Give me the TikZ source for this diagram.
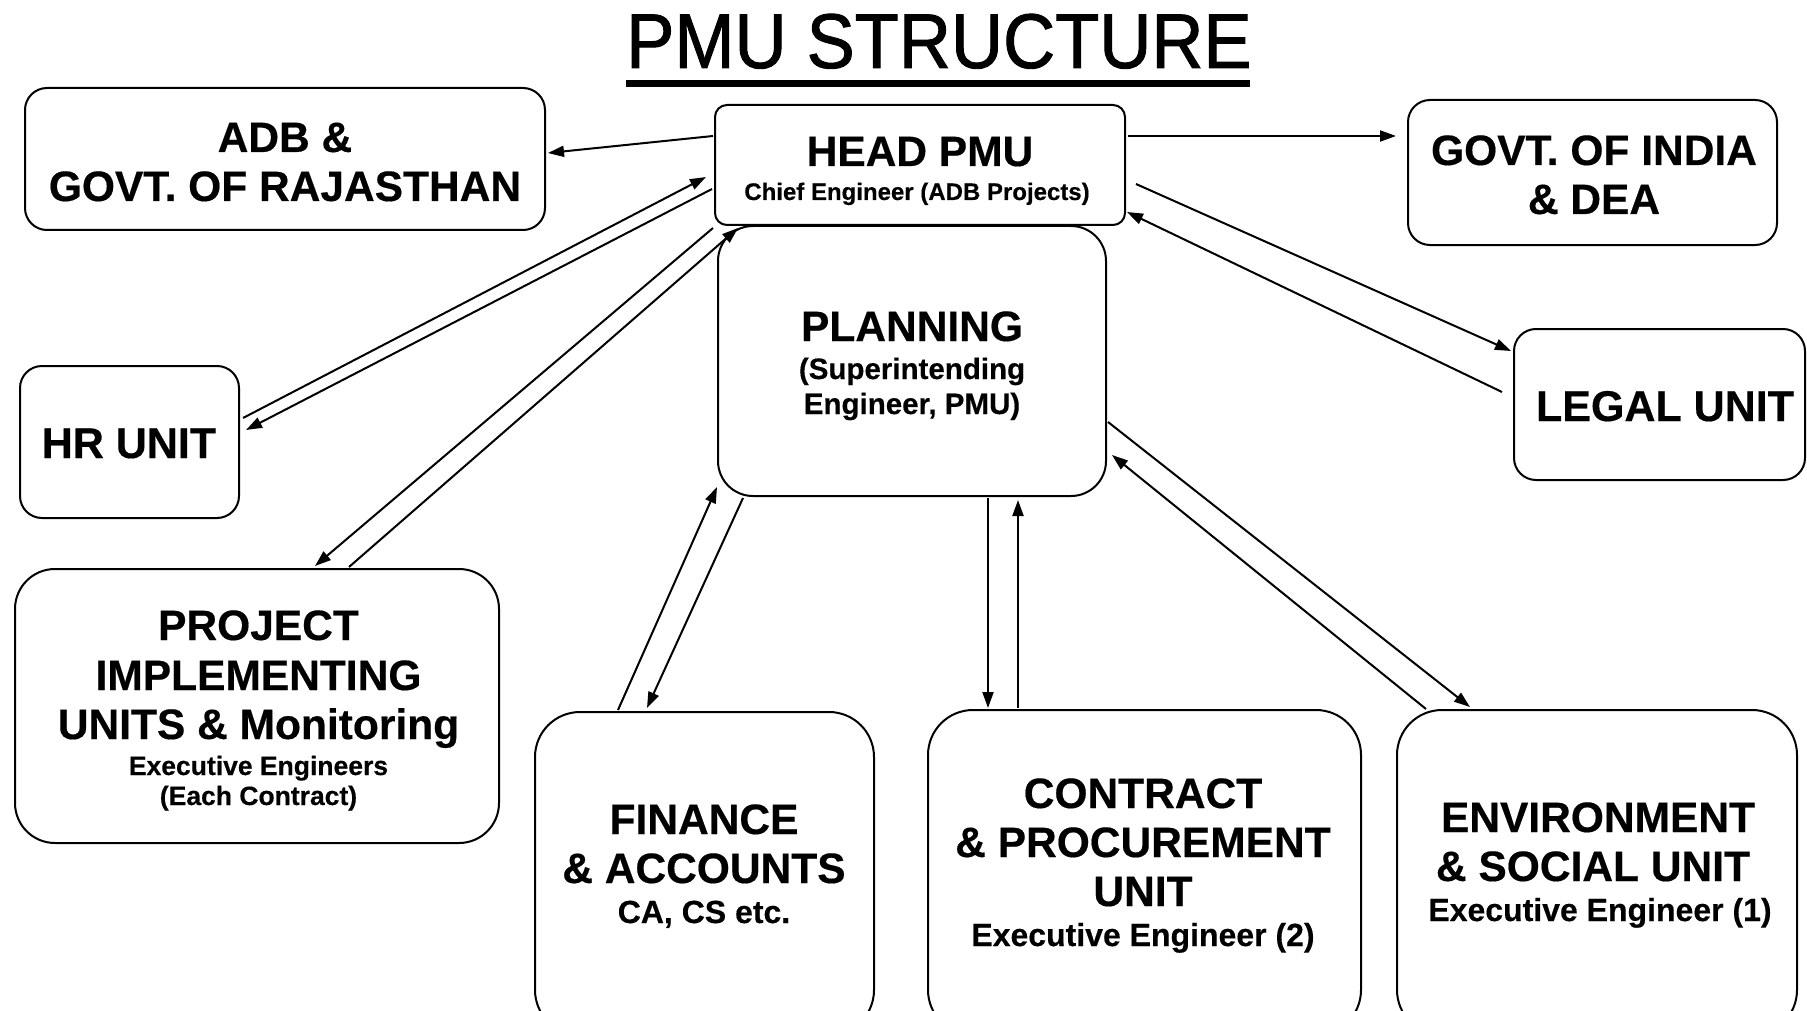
\documentclass[tikz,border=0pt]{standalone}
\usepackage{fontspec}
\setmainfont{Liberation Sans}[BoldFeatures={FakeBold=0.4}]
\newfontfamily\titlefont{Liberation Sans}[FakeStretch=0.93,FakeBold=1.2]
\usetikzlibrary{arrows.meta,calc}
\begin{document}
\begin{tikzpicture}[x=1pt,y=-1pt,
  box/.style={draw, line width=2pt, inner sep=0pt, fill=none},
  txt/.style={anchor=base, inner sep=0pt, font=\bfseries\fontsize{#1}{#1}\selectfont},
  arr/.style={line width=2pt, -{Triangle[length=16pt,width=11pt]}}]
\useasboundingbox (0,0) rectangle (1807,1011);
\fill[white] (0,0) rectangle (1807,1011);
\clip (0,0) rectangle (1807,1011);

% title
\node[anchor=base, inner sep=0pt, font=\titlefont\fontsize{77.6}{78}\selectfont] (title) at (939,68) {PMU STRUCTURE};
\fill (626,80) rectangle (1250,87);

% boxes
\node[box, rounded corners=22pt, minimum width=520pt, minimum height=142pt] (adb) at (285,159) {};
\node[box, rounded corners=12pt, minimum width=410pt, minimum height=120pt] (head) at (920,165) {};
\node[box, rounded corners=22pt, minimum width=369pt, minimum height=145pt] (govt) at (1592.5,172.5) {};
\node[box, rounded corners=35pt, minimum width=388pt, minimum height=270pt] (plan) at (912,361) {};
\node[box, rounded corners=22pt, minimum width=219pt, minimum height=152pt] (hr) at (129.5,442) {};
\node[box, rounded corners=22pt, minimum width=291pt, minimum height=151pt] (legal) at (1659.5,404.5) {};
\node[box, rounded corners=40pt, minimum width=484pt, minimum height=274pt] (proj) at (257,706) {};
\node[box, rounded corners=45pt, minimum width=339pt, minimum height=323pt] (fin) at (704.5,873.5) {};
\node[box, rounded corners=45pt, minimum width=433pt, minimum height=325pt] (cont) at (1144.5,872.5) {};
\node[box, rounded corners=45pt, minimum width=400pt, minimum height=325pt] (env) at (1597,872.5) {};

% texts
\node[txt=42.5] (adb1) at (285,152) {ADB \&};
\node[txt=42.5] (adb2) at (285,201) {GOVT. OF RAJASTHAN};
\node[txt=42.5] (head1) at (920,166) {HEAD PMU};
\node[txt=24] (head2) at (917,200) {Chief Engineer (ADB Projects)};
\node[txt=42.5] (govt1) at (1594,165) {GOVT. OF INDIA};
\node[txt=42.5] (govt2) at (1594,214) {\& DEA};
\node[txt=42.5] (plan1) at (912,341) {PLANNING};
\node[txt=29.5] (plan2) at (912,379) {(Superintending};
\node[txt=29.5] (plan3) at (912,414) {Engineer, PMU)};
\node[txt=43] (hr1) at (129,458) {HR UNIT};
\node[txt=43] (legal1) at (1665,421) {LEGAL UNIT};
\node[txt=42.5] (proj1) at (258.5,640) {PROJECT};
\node[txt=42.5] (proj2) at (258.5,690) {IMPLEMENTING};
\node[txt=42.5] (proj3) at (258.5,739) {UNITS \& Monitoring};
\node[txt=26.5] (proj4) at (258.5,775) {Executive Engineers};
\node[txt=26.5] (proj5) at (258.5,805) {(Each Contract)};
\node[txt=42.5] (fin1) at (704,834) {FINANCE};
\node[txt=42.5] (fin2) at (704,883) {\& ACCOUNTS};
\node[txt=32] (fin3) at (704,923) {CA, CS etc.};
\node[txt=42.5] (cont1) at (1143,808) {CONTRACT};
\node[txt=42.5] (cont2) at (1143,857) {\& PROCUREMENT};
\node[txt=42.5] (cont3) at (1143,906) {UNIT};
\node[txt=32] (cont4) at (1143,946) {Executive Engineer (2)};
\node[txt=42.5] (env1) at (1598,832) {ENVIRONMENT};
\node[txt=42.5] (env2) at (1593,881) {\& SOCIAL UNIT};
\node[txt=32] (env3) at (1600,921) {Executive Engineer (1)};

% connectors
\draw[arr] ($(head.north west)+(-1,32)$) -- ($(adb.north east)+(2,66)$);
\draw[arr] ($(head.north east)+(2,32)$) -- ($(govt.north west)+(-11,37)$);
\draw[arr] ($(hr.north east)+(3,53)$) -- ($(head.north west)+(-8,73)$);
\draw[arr] ($(head.north west)+(-2,85)$) -- ($(hr.north east)+(6,65)$);
\draw[arr] ($(head.south west)+(-1,2)$) -- ($(proj.north west)+(301,-2)$);
\draw[arr] ($(proj.north west)+(335,-1)$) -- ($(head.south west)+(24,2)$);
\draw[arr] ($(fin.north west)+(84,-1)$) -- ($(plan.south west)+(0,-10)$);
\draw[arr] ($(plan.south west)+(26,1)$) -- ($(fin.north west)+(113,-3)$);
\draw[arr] ($(plan.south west)+(271,1)$) -- ($(cont.north west)+(61,-1)$);
\draw[arr] ($(cont.north west)+(91,-1)$) -- ($(plan.south west)+(301,3)$);
\draw[arr] ($(plan.south east)+(1,-75)$) -- ($(env.north west)+(74,-2)$);
\draw[arr] ($(env.north west)+(30,0)$) -- ($(plan.south east)+(5,-42)$);
\draw[arr] ($(head.north east)+(10,80)$) -- ($(legal.north west)+(-2,23)$);
\draw[arr] ($(legal.north west)+(-11,64)$) -- ($(head.north east)+(1,108)$);
\end{tikzpicture}
\end{document}
